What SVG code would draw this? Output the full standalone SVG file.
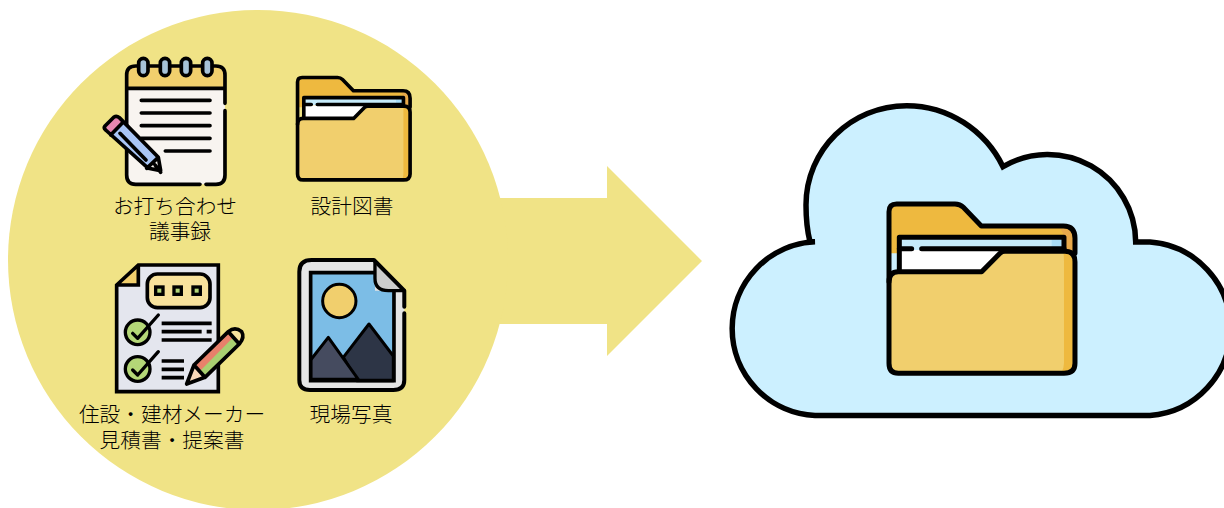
<svg xmlns="http://www.w3.org/2000/svg" xmlns:xlink="http://www.w3.org/1999/xlink" width="1224" height="508" viewBox="0 0 1224 508">
<style>
.lbl{font-family:"Noto Sans CJK JP","Noto Sans",sans-serif;font-size:20.7px;font-weight:300;fill:#000;text-anchor:middle}
.k{stroke:#000;stroke-width:var(--w,15);stroke-linecap:round;stroke-linejoin:round;fill:none}
.s{stroke:#000;stroke-linejoin:round;stroke-linecap:round}
</style>
<defs>
<g id="folder">
<path d="M87,250V65Q87,42 110,42H285Q300,42 310,52L364,108H610Q645,108 645,145V190H87Z" fill="#eeb93f"/>
<path d="M600,115H612Q638,115 638,145V185H615V140Z" fill="#e8a94a"/>
<path d="M118,245V142H612V180H118Z" fill="#c6ebfa"/>
<path d="M118,180H612L420,250H118Z" fill="#fff"/>
<path d="M575,148H605V172H575Z" fill="#a9ddf7"/>
<path d="M118,245V142H612V176" class="k"/>
<path d="M118,176H155M185,176H612" class="k"/>
<path d="M87,275Q87,245 115,245H365L420,190Q425,184 435,184H615Q645,184 645,215V520Q645,550 612,550H115Q87,550 87,520Z" fill="#f1cf6d"/>
<path d="M610,184H618Q645,184 645,215V520Q645,550 612,550H604Q612,535 612,520V215Q612,195 610,184Z" fill="#eeb93f"/>
<path d="M87,65Q87,42 110,42H285Q300,42 310,52L364,108H610Q645,108 645,145V190M87,65V275" class="k"/>
<path d="M87,275Q87,245 115,245H365L420,190Q425,184 435,184H615Q645,184 645,215V520Q645,550 612,550H115Q87,550 87,520Z" class="k"/>
</g>
</defs>

<g id="connectors">
<path id="arrow" d="M490,198H607V166L702,261L607,356V324H490Z" fill="#f0e386"/>
</g>

<g id="source-circle">
<circle cx="258" cy="260" r="250" fill="#f0e386"/>
</g>

<g id="cloud">
<path d="M815,415.5A87,87 0 0 1 815,241.7H810C807,230 806,218 806,205C806,150 851,105.7 906.7,105.7C948,105.7 985,130 1003,166.7A88,88 0 0 1 1135.7,242H1150A87,87 0 0 1 1150,415.5Z" fill="#ccf0ff" stroke="#000" stroke-width="5.5" stroke-linejoin="miter"/>
<use href="#folder" xlink:href="#folder" transform="translate(860,190) scale(.3333)"/>
</g>

<g id="notes">
<g transform="translate(90,40) scale(.3333)">
<path d="M110,145V105Q110,78 137,78H378Q405,78 405,105V145Z" fill="#f1cf6d"/>
<path d="M110,145H405V405Q405,433 378,433H137Q110,433 110,405Z" fill="#f8f4f0"/>
<path d="M110,405V105Q110,78 137,78H378Q405,78 405,105V190M405,212V405Q405,433 378,433H348M330,433H137Q110,433 110,405M110,145H405" class="s" fill="none" stroke-width="11"/>
<g fill="#a6c2d8" stroke="#000" stroke-width="11">
<rect x="146" y="55" width="28" height="52" rx="14"/>
<rect x="211" y="55" width="28" height="52" rx="14"/>
<rect x="274" y="55" width="28" height="52" rx="14"/>
<rect x="338" y="55" width="28" height="52" rx="14"/>
</g>
<path d="M154,181H360M154,219H360M154,257H360M154,295H360M226,333H360" class="s" stroke-width="11" fill="none"/>
<path d="M45,258L72,231Q80,226 88,233L205,352L210,385L175,385L45,270Q40,264 45,258Z" fill="#a9c5f5"/>
<path d="M45,258L72,231Q80,226 88,233L100,246L62,285L47,270Q40,264 45,258Z" fill="#e687b0"/>
<path d="M170,385L205,352L212,392Z" fill="#f8f4f0"/>
<path d="M45,258L72,231Q80,226 88,233L205,352L212,392L175,385L47,270Q40,264 45,258ZM62,285L100,246M90,280L168,360M212,397L195,375M170,385L205,352" class="s" stroke-width="11" fill="none"/>
</g>
</g>
<g id="notes-label">
<text class="lbl" x="175" y="214">お打ち合わせ</text>
<text class="lbl" x="180" y="239">議事録</text>
</g>

<g id="drawings">
<use href="#folder" xlink:href="#folder" transform="translate(280,69) scale(.2017)" style="--w:18"/>
<text class="lbl" x="352" y="214">設計図書</text>
</g>

<g id="quotes">
<g transform="translate(70,250) scale(.3333)">
<path d="M140,105L205,45H445V425H140Z" fill="#e4e6ee"/>
<path d="M140,105L205,45V105Z" fill="#f1cf6d"/>
<path d="M140,105L205,45H445V425H140ZM140,105H205V45" stroke="#000" stroke-width="11" fill="none" stroke-linejoin="miter"/>
<rect x="232" y="72" width="188" height="101" rx="30" fill="#f8e29c" stroke="#000" stroke-width="11"/>
<g fill="#b4d777" stroke="#000" stroke-width="10">
<rect x="257" y="111" width="22" height="22"/>
<rect x="312" y="111" width="22" height="22"/>
<rect x="369" y="111" width="22" height="22"/>
<circle cx="203" cy="247" r="37"/>
<circle cx="203" cy="357" r="37"/>
</g>
<path d="M188,250L203,265L265,195M188,360L203,375L265,305" class="s" stroke-width="10" fill="none"/>
<path d="M275,220H425M275,245H395M410,245H425M275,270H425M275,333H342M275,358H342M275,383H342" stroke="#000" stroke-width="11" fill="none"/>
<path d="M350,402L372,345L475,245Q495,228 515,245Q525,262 508,282L405,382Z" fill="#a8cf70"/>
<path d="M372,345L475,245L490,262L388,365Z" fill="#e8806b"/>
<path d="M475,245Q495,228 515,245Q525,262 508,282Z" fill="#f8e29c"/>
<path d="M350,402L372,345L405,382Z" fill="#f8d8b8"/>
<path d="M350,402L372,345L475,245Q495,228 515,245Q525,262 508,282L405,382ZM372,345L405,382M475,245L508,282" class="s" stroke-width="11" fill="none"/>
</g>
<text class="lbl" x="172" y="422">住設・建材メーカー</text>
<text class="lbl" x="172" y="448">見積書・提案書</text>
</g>

<g id="photos">
<g transform="translate(70,250) scale(.3333)">
<path d="M725,30H912L1003,122V390Q1003,420 970,420H720Q688,420 688,390V65Q688,30 725,30Z" fill="#e5e5e5"/>
<path d="M722,68H915V122H972V392H722Z" fill="#7cbde6"/>
<circle cx="808" cy="153" r="50" fill="#f1cf6d" stroke="#000" stroke-width="9"/>
<path d="M820,322L897,222L970,318V392H860Z" fill="#2d3546" stroke="#000" stroke-width="9" stroke-linejoin="round"/>
<path d="M722,330L775,262L865,388H722Z" fill="#454b5f" stroke="#000" stroke-width="9" stroke-linejoin="round"/>
<path d="M915,68H722V392H972V122" fill="none" stroke="#000" stroke-width="11"/>
<path d="M915,35L1003,122H955Q915,122 915,85Z" fill="#ccc"/>
<path d="M915,35V85Q915,122 955,122H1003" class="s" stroke-width="10" fill="none"/>
<path d="M1003,170V122L912,30H725Q688,30 688,65V390Q688,420 720,420H970Q1003,420 1003,390V190" class="s" stroke-width="12" fill="none"/>
</g>
<text class="lbl" x="351" y="422">現場写真</text>
</g>
</svg>
